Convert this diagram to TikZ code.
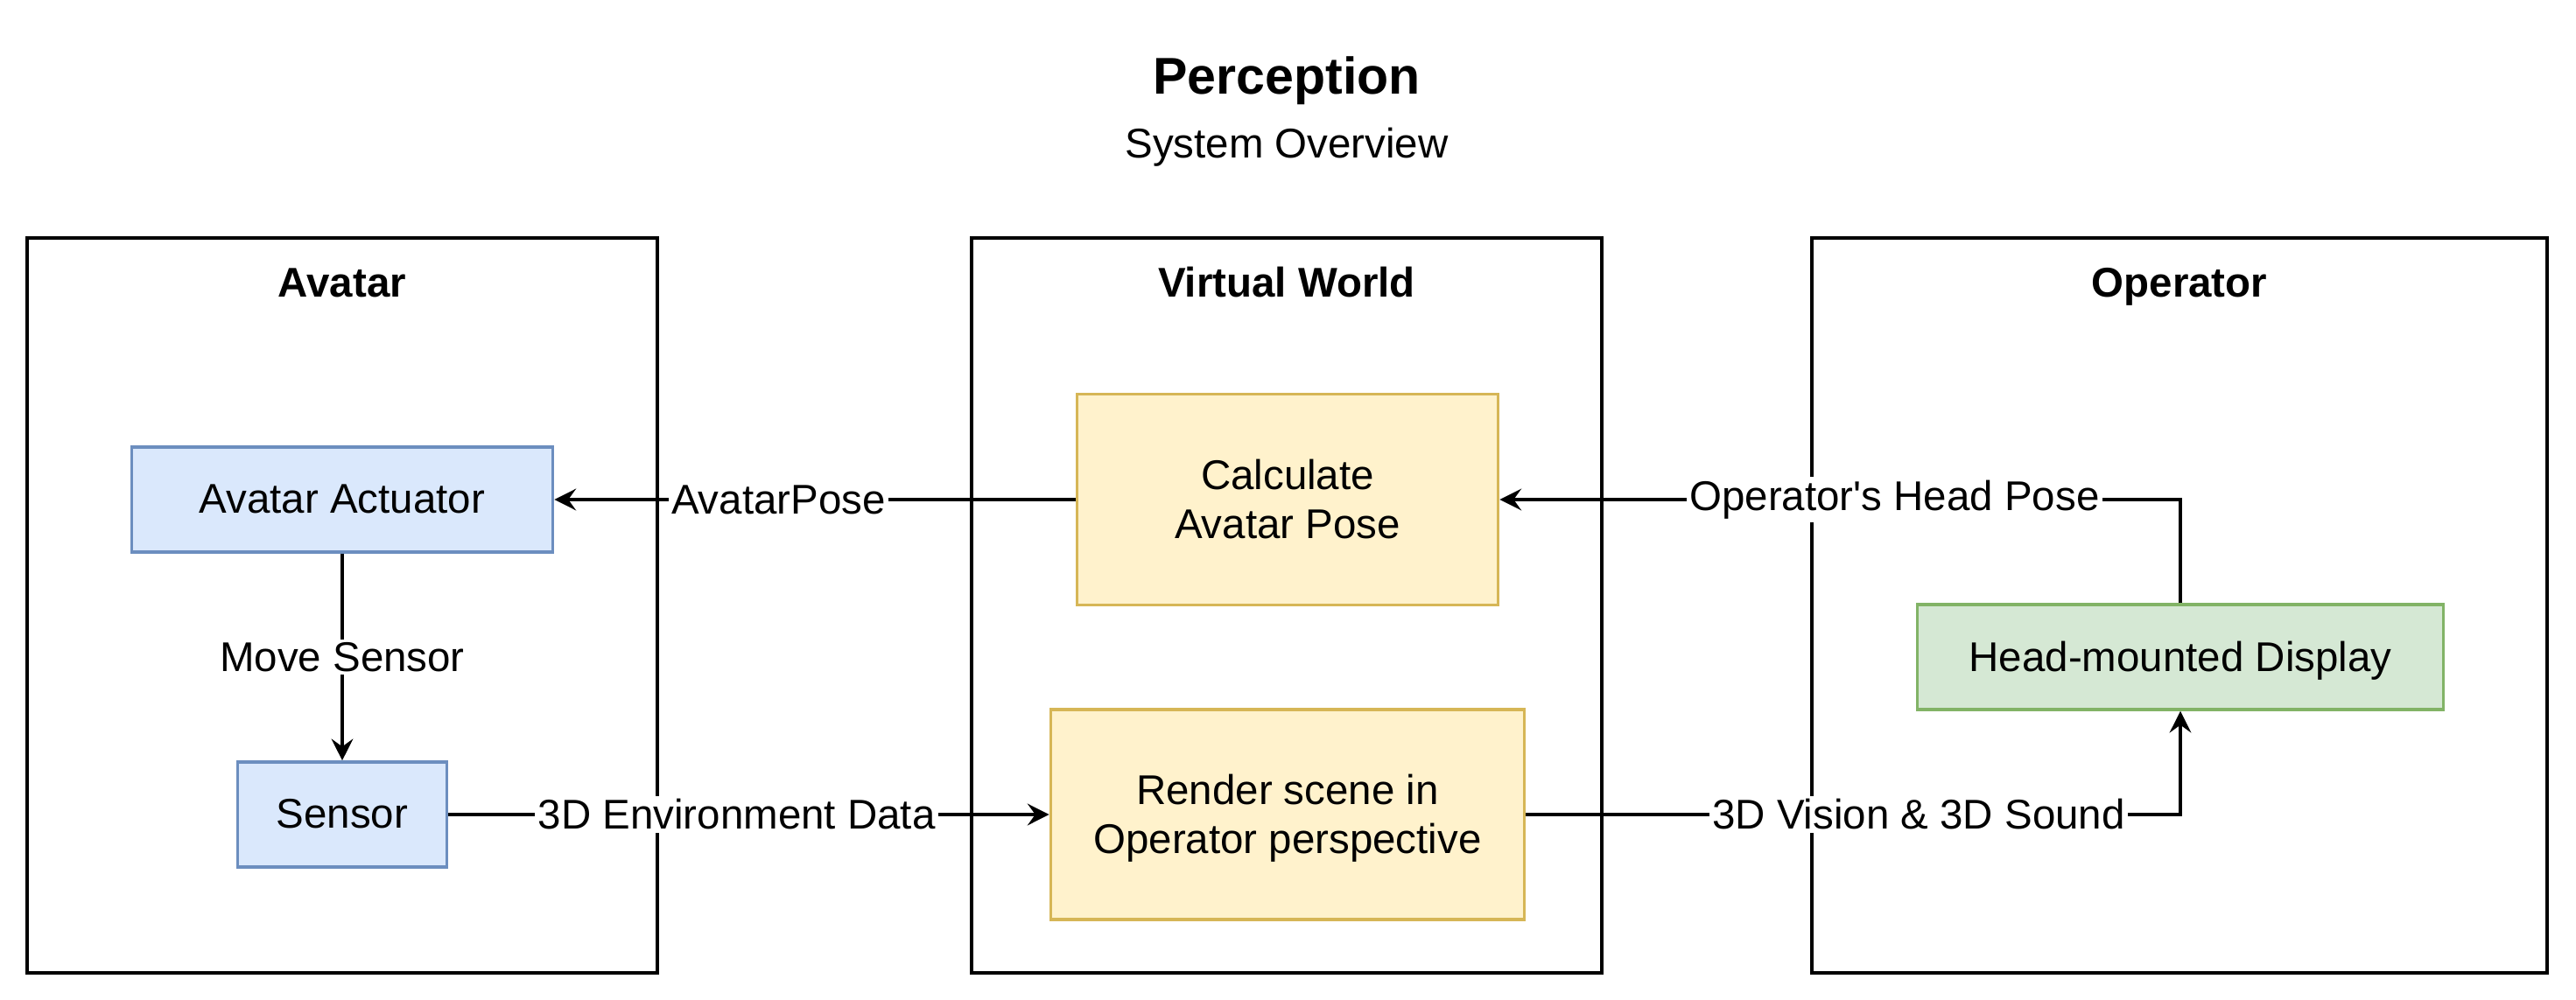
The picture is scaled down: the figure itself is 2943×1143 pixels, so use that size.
\documentclass[tikz,border=0pt]{standalone}
\usepackage{fontspec}
\setmainfont{Liberation Sans}
\usetikzlibrary{arrows.meta,positioning}
\definecolor{avatarfill}{HTML}{DAE8FC}
\definecolor{avatardraw}{HTML}{6C8EBF}
\definecolor{worldfill}{HTML}{FFF2CC}
\definecolor{worlddraw}{HTML}{D6B656}
\definecolor{operatorfill}{HTML}{D5E8D4}
\definecolor{operatordraw}{HTML}{82B366}
\tikzset{
	every node/.style={font=\fontsize{13.5}{16}\selectfont},
	group/.style={draw, line width=1.1pt, minimum height=8.40cm, inner sep=0pt},
	grouptitle/.style={font=\fontsize{13.5}{16}\selectfont\bfseries, text height=10pt, text depth=3pt},
	box/.style={draw, line width=1pt, inner sep=0pt, align=center, text depth=0.5pt},
	avatarbox/.style={box, fill=avatarfill, draw=avatardraw},
	worldbox/.style={box, fill=worldfill, draw=worlddraw},
	operatorbox/.style={box, fill=operatorfill, draw=operatordraw},
	flow/.style={line width=1.1pt, -{Stealth[length=7pt, width=7pt, inset=2.5pt]}},
	lbl/.style={fill=white, inner sep=1pt}
}
\begin{document}
\begin{tikzpicture}[x=0.01cm, y=-0.01cm]
	\useasboundingbox (0,0) rectangle (2943,1143);
	\node[font=\fontsize{16.8}{20}\selectfont\bfseries] (title) at (1470,92) {Perception};
	\node (subtitle) at (1470,168) {System Overview};
	\node[group, minimum width=7.19cm] (avatar) at (391,692) {};
	\node[group, minimum width=7.19cm] (world) at (1470,692) {};
	\node[group, minimum width=8.40cm] (operator) at (2490,692) {};
	\node[grouptitle] (avatartitle) at (391,327) {Avatar};
	\node[grouptitle] (worldtitle) at (1470,327) {Virtual World};
	\node[grouptitle] (operatortitle) at (2490,327) {Operator};
	\node[avatarbox, minimum width=4.81cm, minimum height=1.20cm] (actuator) at (391,571) {Avatar Actuator};
	\node[avatarbox, minimum width=2.39cm, minimum height=1.20cm] (sensor) at (391,931) {Sensor};
	\node[worldbox, minimum width=4.81cm, minimum height=2.41cm] (calc) at (1471,571) {Calculate\\Avatar Pose};
	\node[worldbox, minimum width=5.41cm, minimum height=2.40cm] (render) at (1471,931) {Render scene in\\Operator perspective};
	\node[operatorbox, minimum width=6.01cm, minimum height=1.20cm] (hmd) at (2491,751) {Head-mounted Display};
	\draw[flow] (calc.west) -- node[lbl, pos=0.57] {AvatarPose} (actuator.east);
	\draw[flow] (actuator) -- node[lbl] {Move Sensor} (sensor);
	\draw[flow] (sensor.east) -- node[lbl, pos=0.48] {3D Environment Data} (render.west);
	\draw[flow] (hmd.north) |- node[lbl, pos=0.71] {Operator\textquotesingle s Head Pose} (calc.east);
	\draw[flow] (render.east) -| node[lbl, pos=0.3] {3D Vision \& 3D Sound} (hmd.south);
\end{tikzpicture}
\end{document}
